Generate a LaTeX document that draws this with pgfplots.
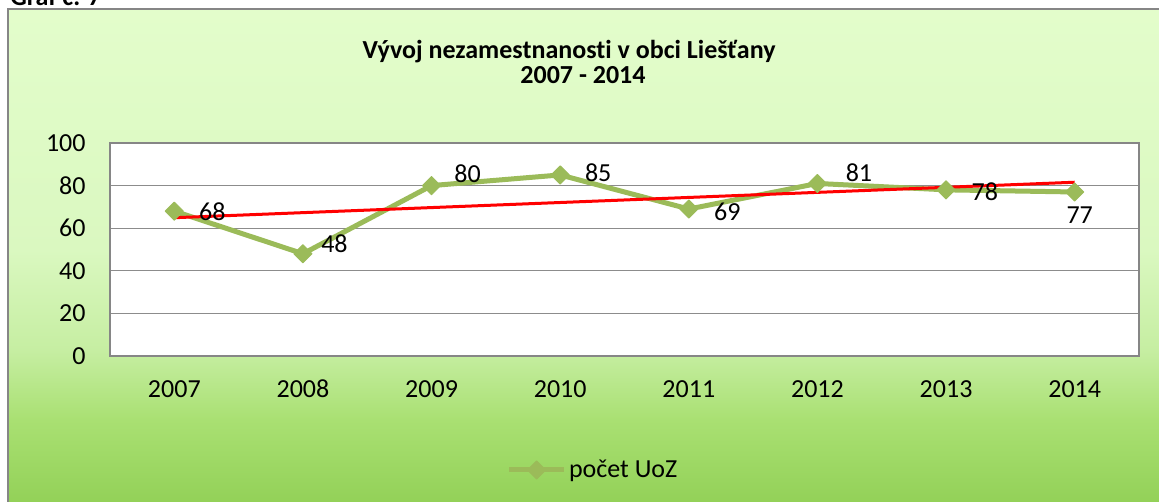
\documentclass[border=0pt]{standalone}
\usepackage{fontspec}
\setmainfont[Ligatures=NoCommon]{Carlito}
\usepackage{pgfplots}
\usepackage{pgfplotstable}
\pgfplotsset{compat=1.18}
\definecolor{uozgreen}{HTML}{9BBB59}
\definecolor{framegray}{HTML}{868686}
\definecolor{gridgray}{HTML}{8C8C8C}
\definecolor{bgA}{HTML}{93D158}
\definecolor{bgB}{HTML}{A9E072}
\definecolor{bgC}{HTML}{C6EEA2}
\definecolor{bgD}{HTML}{DAF8C0}
\definecolor{bgE}{HTML}{E3FDCB}
\pgfdeclareverticalshading{bgshade}{100bp}{color(0bp)=(bgA); color(25bp)=(bgA); color(33.3bp)=(bgB); color(40.4bp)=(bgC); color(50.6bp)=(bgD); color(75bp)=(bgE); color(100bp)=(bgE)}
\pgfplotstableread{
x y dx dy
0 68 19 -0.5
1 48 15.75 5
2 80 18 5.8
3 85 19 1
4 69 19.25 -1.25
5 81 20.75 5.5
6 78 19.35 -1
7 77 2.5 -11.35
}\datatable
\newcommand{\lblfont}{\fontsize{13}{15}\selectfont}
\begin{document}
\begin{tikzpicture}
\useasboundingbox (0pt,0pt) rectangle (579.5pt,251pt);
\node[anchor=base west, font=\lblfont\bfseries, inner sep=0pt] at (5pt,248.25pt) {Graf č. 7};
\shade[shading=bgshade] (4pt,0pt) rectangle (590pt,246.5pt);
\draw[framegray, line width=0.7pt] (4pt,-5pt) -- (4pt,246.5pt) -- (590pt,246.5pt);
\node[anchor=base, font=\lblfont\bfseries, inner sep=0pt] at (284.5pt,221.85pt) {Vývoj nezamestnanosti v obci Liešťany};
\node[anchor=base, font=\lblfont\bfseries, inner sep=0pt] at (291.5pt,209pt) {2007 - 2014};
\begin{axis}[
  at={(55pt,73pt)}, anchor=south west,
  scale only axis, width=514.5pt, height=106.5pt,
  xmin=-0.5, xmax=7.5, ymin=0, ymax=100,
  xtick={0,...,7},
  xticklabels={2007,2008,2009,2010,2011,2012,2013,2014},
  ytick={0,20,...,100},
  ymajorgrids,
  major grid style={gridgray, line width=0.6pt},
  axis line style={framegray, line width=0.6pt},
  major tick length=0pt,
  tick label style={font=\lblfont},
  yticklabel style={inner sep=0pt, xshift=-12pt},
  xticklabel style={inner sep=0pt, text height=8.3pt, text depth=0pt, yshift=-12.5pt},
  /pgf/number format/assume math mode=true,
  axis background/.style={fill=white},
  clip=false,
  legend style={at={(0.4696,-0.535)}, anchor=center, draw=none, fill=none,
    font=\lblfont, inner sep=0pt, nodes={inner sep=1.25pt}},
  legend image code/.code={\draw[#1, mark repeat=2, mark phase=2] plot coordinates {(0pt,0pt) (13.75pt,0pt) (27.5pt,0pt)};},
]
\addplot[uozgreen, line width=2.5pt, line join=round, mark=square*, mark size=3.2pt,
  mark options={rotate=45, solid, fill=uozgreen, draw=uozgreen, line width=0.5pt}]
  table[x=x, y=y] {\datatable};
\addlegendentry{počet UoZ}
\addplot[red, line width=1.5pt, forget plot] coordinates {(0,64.92) (7,81.58)};
\addplot[draw=none, mark=none, forget plot,
  nodes near coords, point meta=explicit,
  visualization depends on={\thisrow{dx}\as\dx},
  visualization depends on={\thisrow{dy}\as\dy},
  every node near coord/.style={anchor=center, xshift=\dx pt, yshift=\dy pt,
    font=\lblfont, text=black, inner sep=0pt}]
  table[x=x, y=y, meta=y] {\datatable};
\end{axis}
\end{tikzpicture}
\end{document}
